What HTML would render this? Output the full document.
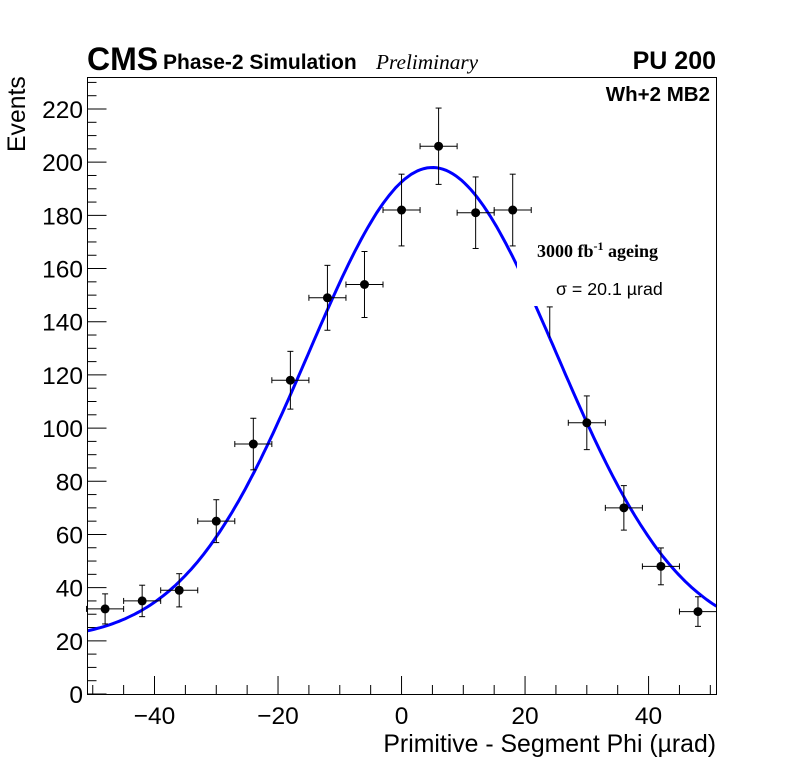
<!DOCTYPE html>
<html><head><meta charset="utf-8"><style>
html,body{margin:0;padding:0;background:#fff;}
svg{display:block;font-family:"Liberation Sans",sans-serif;}
</style></head><body>
<svg id="chart" width="796" height="772" viewBox="0 0 796 772">
<rect width="796" height="772" fill="#fff"/>
<g id="ticks"></g>
<g id="fit"></g>
<g id="pts"></g>
<rect x="517" y="232" width="196" height="74" fill="#fff"/>
<text x="537" y="257" font-family="Liberation Serif,serif" font-weight="bold" font-size="18">3000 fb<tspan font-size="12" dy="-7">-1</tspan><tspan dy="7"> ageing</tspan></text>
<text x="556" y="295" font-size="17.8">σ = 20.1 µrad</text>
<rect x="87.5" y="77.5" width="629" height="617" fill="none" stroke="#000" stroke-width="1"/>
<text x="87" y="70" font-size="32" font-weight="bold">CMS</text>
<text x="163" y="69" font-size="21" font-weight="bold">Phase-2 Simulation</text>
<text x="376" y="69" font-size="21.3" font-style="italic" font-family="Liberation Serif,serif">Preliminary</text>
<text x="716" y="69" font-size="25" font-weight="bold" text-anchor="end">PU 200</text>
<text x="710" y="101" font-size="20.5" font-weight="bold" text-anchor="end">Wh+2 MB2</text>
<text x="716" y="752" font-size="24.8" text-anchor="end">Primitive - Segment Phi (µrad)</text>
<text transform="translate(25,152) rotate(-90)" font-size="24.8">Events</text>
</svg>
<script>
const categories = [-48,-42,-36,-30,-24,-18,-12,-6,0,6,12,18,24,30,36,42,48];
const counts = [32,35,39,65,94,118,149,154,182,206,181,182,134,102,70,48,31];
const yTicks = [0,20,40,60,80,100,120,140,160,180,200,220];
const xTicks = [-40,-20,0,20,40];
const hiddenBins = [24];
const fitAmp = 178, fitMean = 5, fitSigma = 20.1, fitConst = 20;
const binHalf = 3;

const X0=-50.85, X1=51.0, PL=87.5, PR=716.5, PB=694, PT=77.5;
const sx = v => PL + (v - X0) / (X1 - X0) * (PR - PL);
const sy = v => PB - v * (694 - 109) / 220;
const NS='http://www.w3.org/2000/svg';
function mk(tag, attrs, parent){const e=document.createElementNS(NS,tag);for(const k in attrs)e.setAttribute(k,attrs[k]);parent.appendChild(e);return e;}

const tg=document.getElementById('ticks');
for(let v=0; v<=232; v+=5){
  const major = v%20===0;
  const l=mk('line',{x1:PL,x2:PL+(major?19:9),y1:sy(v),y2:sy(v),stroke:'#000','stroke-width':1},tg);
  
  
}
for(let v=-50; v<=50; v+=5){
  const major = v%20===0;
  const l=mk('line',{x1:sx(v),x2:sx(v),y1:PB,y2:PB-(major?18:9),stroke:'#000','stroke-width':1},tg);
  
  
}
yTicks.forEach(v=>{
  const t=mk('text',{x:83,y:sy(v)+9,'font-size':24.5,'text-anchor':'end'},tg);
  t.textContent=v;
  
  
});
xTicks.forEach(v=>{
  const t=mk('text',{x:sx(v),y:724,'font-size':24.5,'text-anchor':'middle'},tg);
  t.textContent=(v<0?'\u2212'+(-v):v);
  
  
});

const fg=document.getElementById('fit');
let d='';
for(let i=0;i<=200;i++){
  const x=X0+(X1-X0)*i/200;
  const y=fitAmp*Math.exp(-Math.pow(x-fitMean,2)/(2*fitSigma*fitSigma))+fitConst;
  d+=(i?'L':'M')+sx(x).toFixed(1)+','+sy(y).toFixed(1);
}
const p=mk('path',{d:d,fill:'none',stroke:'#0000ff','stroke-width':3},fg);



const pg=document.getElementById('pts');
categories.forEach((c,i)=>{
  const v=counts[i], e=Math.sqrt(v);
  const g=mk('g',{},pg);
  
  
  const cx=sx(c), cy=sy(v);
  if(hiddenBins.indexOf(c)>=0){
    mk('line',{x1:cx,x2:cx,y1:sy(v+e),y2:cy,stroke:'#000'},g);
    mk('line',{x1:cx-3,x2:cx+3,y1:sy(v+e),y2:sy(v+e),stroke:'#000'},g);
    return;
  }
  mk('line',{x1:sx(c-binHalf),x2:sx(c+binHalf),y1:cy,y2:cy,stroke:'#000'},g);
  mk('line',{x1:cx,x2:cx,y1:sy(v+e),y2:sy(v-e),stroke:'#000'},g);
  mk('line',{x1:sx(c-binHalf),x2:sx(c-binHalf),y1:cy-3,y2:cy+3,stroke:'#000'},g);
  mk('line',{x1:sx(c+binHalf),x2:sx(c+binHalf),y1:cy-3,y2:cy+3,stroke:'#000'},g);
  mk('line',{x1:cx-3,x2:cx+3,y1:sy(v+e),y2:sy(v+e),stroke:'#000'},g);
  mk('line',{x1:cx-3,x2:cx+3,y1:sy(v-e),y2:sy(v-e),stroke:'#000'},g);
  mk('circle',{cx:cx,cy:cy,r:4.5,fill:'#000'},g);
});
</script>
</body></html>
